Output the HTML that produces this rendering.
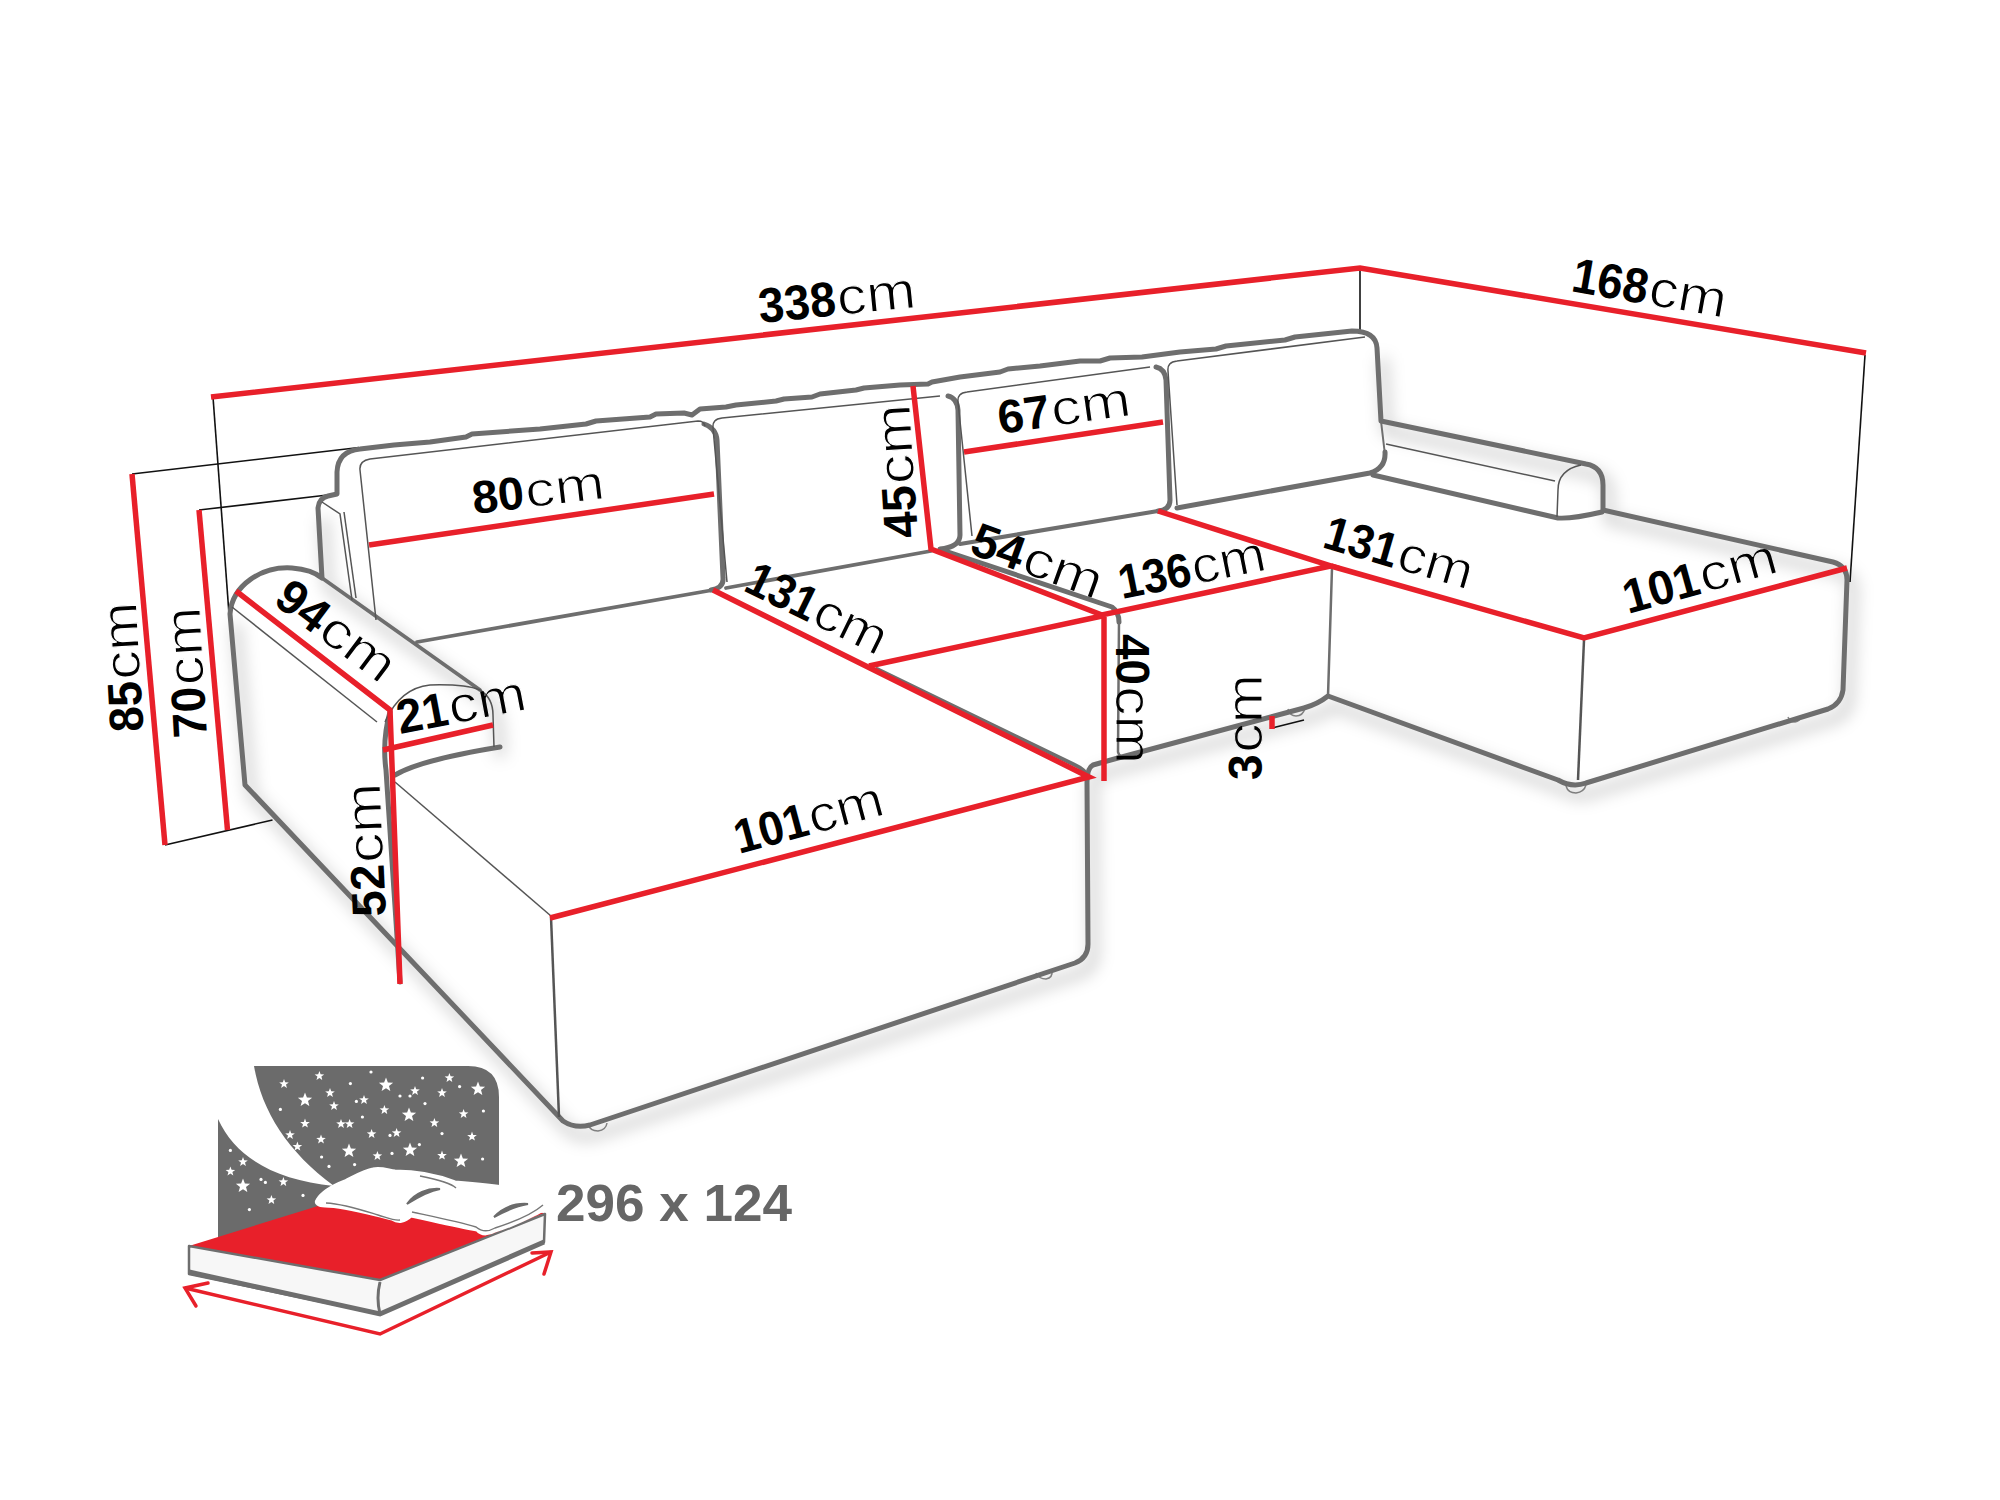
<!DOCTYPE html>
<html><head><meta charset="utf-8"><style>
html,body{margin:0;padding:0;background:#fff;}
svg{display:block;}
</style></head><body>
<svg width="2000" height="1500" viewBox="0 0 2000 1500">
<rect width="2000" height="1500" fill="#fff"/>
<defs><filter id="sh" x="-10%" y="-10%" width="120%" height="120%"><feGaussianBlur stdDeviation="8"/></filter></defs>
<g fill="#fff" stroke="#8a8a8a" stroke-width="1.5"><path d="M588 1124 Q590 1131 598 1131 Q606 1130 607 1123"/><path d="M1036 973 Q1039 979 1046 979 Q1053 978 1052 970"/><path d="M1288 709 Q1290 716 1296 716 Q1303 716 1305 708"/><path d="M1566 786 Q1568 793 1576 793 Q1584 792 1586 785"/><path d="M1788 717 Q1790 722 1795 722 Q1800 721 1801 716"/></g>
<g stroke="#111" stroke-width="1.6" fill="none"><line x1="213" y1="397" x2="229" y2="614"/><line x1="1360" y1="271" x2="1360" y2="330"/><line x1="1865" y1="355" x2="1850" y2="582"/><line x1="132" y1="474" x2="359" y2="447.5"/><line x1="199" y1="510" x2="327.5" y2="495"/><line x1="165" y1="845" x2="272.5" y2="820"/><line x1="1272" y1="728" x2="1304" y2="720"/></g>
<path d="M1377 348 L1381 421 L1586 464 Q1603 467 1603 485 L1603 510 L1833 562 Q1847 566 1847 580 L1843 690 Q1841 704 1828 709 L1586 783 Q1572 788 1558 780 L1328 696 Q1318 704 1304 708 L1118 758 L1093 765 Q1087 768 1087 782 L1088 944 Q1088 958 1075 963 L590 1125 Q575 1129 563 1121 L245 785 L230 614 M322 578 L318 508 M322 578 L480 690 Q495 698 494 747" stroke="#000" stroke-opacity="0.2" stroke-width="9" fill="none" transform="translate(6,10)" filter="url(#sh)"/>
<g stroke="#6e6e6e" stroke-width="5" fill="none" stroke-linejoin="round" stroke-linecap="round">
<path d="M230 614 C232 585 262 566 292 568 C305 569 316 573 322 578 L318 508 Q319 498 328 496 L337 494 L337 472 Q338 451 360 449 L360 449 L394 445 L430 442 L466 437 L472 434 L540 429 L586 424 L596 421 L650 417 L656 414 L684 413 L692 415 L700 409 L726 407 L736 405 L776 401 L784 399 L812 397 L820 394 L856 390 L864 388 L900 385 L928 384 L932 382 L960 377 L1000 372 L1008 369 L1040 366 L1080 361 L1100 361 L1110 358 L1142 357 L1180 352 L1216 349 L1226 346 L1285 340 L1295 337 L1352 331 Q1376 331 1377 348 L1381 421 L1586 464 Q1603 467 1603 485 L1603 510 L1833 562 Q1847 566 1847 580 L1843 690 Q1841 704 1828 709 L1586 783 Q1572 788 1558 780 L1328 696 Q1318 704 1304 708 L1118 758 L1093 765 Q1087 768 1087 782 L1088 944 Q1088 958 1075 963 L590 1125 Q575 1129 563 1121 L245 785 L230 614"/>
<path d="M322 578 L480 690" stroke-width="3.8"/>
<path d="M390 712 Q382 740 386 770 L400 982"/>
<path d="M395 775 Q420 760 500 747"/>
<path d="M417 642 L713 590" stroke-width="3.8"/>
<path d="M726 588 L931 551" stroke-width="3.8"/>
<path d="M960 544 L1158 511" stroke-width="4.2"/>
<path d="M1177 508 L1370 473 Q1386 468 1385 452"/>
<path d="M1385 455 L1381 421" stroke-width="2"/>
<path d="M704 424 Q716 428 717 440 L723 578 Q724 588 711 590"/>
<path d="M948 396 Q957 398 958 410 L960 535 Q960 547 940 549"/>
<path d="M1156 367 Q1165 369 1166 380 L1170 500 Q1170 510 1158 511"/>
<path d="M942 550 L1112 607 Q1119 612 1119 622"/>
<path d="M1119 620 L1118 752 Q1120 760 1130 756" stroke-width="2.5"/>
<path d="M1332 568 L1328 696" stroke-width="2.5"/>
<path d="M1373 475 L1558 518 Q1572 519 1602 512"/>
<path d="M877 669 L1075 765 Q1086 770 1088 777" stroke-width="4"/>
</g>
<g stroke="#555" stroke-width="1.5" fill="none">
<path d="M232 607 L377 722"/>
<path d="M385 722 Q400 688 430 685 Q465 684 480 690 Q493 698 493 715 L494 747"/>
<path d="M395 782 L551 916"/>
<path d="M551 917 L559 1117" stroke-width="2.5"/>
<path d="M1584 640 L1578 780" stroke-width="2.5"/>
<path d="M322 502 L340 514 L352 600"/>
<path d="M344 512 L356 598"/>
<path d="M376 620 L360 470 Q359 461 370 459 L698 421 Q704 421 705 426"/>
<path d="M727 582 L713 428 Q712 419 722 418 L940 396"/>
<path d="M972 536 L958 402 Q957 393 967 392 L1150 367"/>
<path d="M1177 505 L1168 371 Q1167 362 1177 361 L1365 337"/>
<path d="M1386 444 L1555 481"/>
<path d="M1581 465 Q1558 470 1558 490 L1557 517"/>
</g>
<g stroke="#e8202a" stroke-width="5.5" fill="none" stroke-linecap="butt" stroke-linejoin="miter">
<path d="M211 397 L1360 268 L1866 353"/>
<path d="M132 474 L165 845"/>
<path d="M199 510 L227.5 830"/>
<path d="M369 545 L714 494"/>
<path d="M964 452 L1163 422"/>
<path d="M913 386 L931 549 L1102 615 L1331 566 L1158 511"/>
<path d="M1331 566 L1584 638 L1847 568"/>
<path d="M869 666 L1102 616"/>
<path d="M1104 617 L1104 781"/>
<path d="M713 590 L1089 777 L550 918"/>
<path d="M236 591 L390 710 L400 984"/>
<path d="M383 750 L493 725"/>
<path d="M1272 716 L1272 729"/>
</g>
<g font-family="Liberation Sans, sans-serif" fill="#000"><text transform="translate(760,323) rotate(-5.7)" font-size="49" font-weight="bold" textLength="77.5" lengthAdjust="spacingAndGlyphs">338</text><text transform="translate(1570,291) rotate(10)" font-size="49" font-weight="bold" textLength="76.5" lengthAdjust="spacingAndGlyphs">168</text><text transform="translate(474,514) rotate(-6.8)" font-size="46" font-weight="bold" textLength="52.0" lengthAdjust="spacingAndGlyphs">80</text><text transform="translate(1000,434) rotate(-8)" font-size="47" font-weight="bold" textLength="52.4" lengthAdjust="spacingAndGlyphs">67</text><text transform="translate(918,537) rotate(-93.6)" font-size="48" font-weight="bold" textLength="52.4" lengthAdjust="spacingAndGlyphs">45</text><text transform="translate(968,553) rotate(20)" font-size="48" font-weight="bold" textLength="53.1" lengthAdjust="spacingAndGlyphs">54</text><text transform="translate(1122,599) rotate(-11.3)" font-size="48" font-weight="bold" textLength="73.1" lengthAdjust="spacingAndGlyphs">136</text><text transform="translate(1321,547) rotate(16.3)" font-size="48" font-weight="bold" textLength="75.0" lengthAdjust="spacingAndGlyphs">131</text><text transform="translate(1628,614) rotate(-15.5)" font-size="48" font-weight="bold" textLength="77.5" lengthAdjust="spacingAndGlyphs">101</text><text transform="translate(742,590) rotate(26)" font-size="48" font-weight="bold" textLength="74.0" lengthAdjust="spacingAndGlyphs">131</text><text transform="translate(739,854) rotate(-15)" font-size="48" font-weight="bold" textLength="75.0" lengthAdjust="spacingAndGlyphs">101</text><text transform="translate(272,603) rotate(37)" font-size="48" font-weight="bold" textLength="53.1" lengthAdjust="spacingAndGlyphs">94</text><text transform="translate(400,734) rotate(-10.8)" font-size="48" font-weight="bold" textLength="51.2" lengthAdjust="spacingAndGlyphs">21</text><text transform="translate(386,916) rotate(-92.6)" font-size="48" font-weight="bold" textLength="52.4" lengthAdjust="spacingAndGlyphs">52</text><text transform="translate(143.5,731) rotate(-93.2)" font-size="48" font-weight="bold" textLength="50.8" lengthAdjust="spacingAndGlyphs">85</text><text transform="translate(207,737) rotate(-93.2)" font-size="48" font-weight="bold" textLength="51.2" lengthAdjust="spacingAndGlyphs">70</text><text transform="translate(1116,634) rotate(90)" font-size="48" font-weight="bold" textLength="50.8" lengthAdjust="spacingAndGlyphs">40</text><text transform="translate(1262,780) rotate(-90)" font-size="48" font-weight="bold" textLength="25.7" lengthAdjust="spacingAndGlyphs">3</text></g>
<mask id="cmm" maskUnits="userSpaceOnUse" x="0" y="0" width="2000" height="1500"><g font-family="Liberation Sans, sans-serif" fill="#fff" stroke="#000" stroke-width="1.2"><text transform="translate(760,323) rotate(-5.7)" x="79.0" font-size="51.9" textLength="79.0" lengthAdjust="spacingAndGlyphs">cm</text><text transform="translate(1570,291) rotate(10)" x="78.0" font-size="51.9" textLength="78.0" lengthAdjust="spacingAndGlyphs">cm</text><text transform="translate(474,514) rotate(-6.8)" x="53.5" font-size="48.8" textLength="79.5" lengthAdjust="spacingAndGlyphs">cm</text><text transform="translate(1000,434) rotate(-8)" x="53.9" font-size="49.8" textLength="80.1" lengthAdjust="spacingAndGlyphs">cm</text><text transform="translate(918,537) rotate(-93.6)" x="53.9" font-size="50.9" textLength="80.1" lengthAdjust="spacingAndGlyphs">cm</text><text transform="translate(968,553) rotate(20)" x="54.7" font-size="50.9" textLength="81.3" lengthAdjust="spacingAndGlyphs">cm</text><text transform="translate(1122,599) rotate(-11.3)" x="74.5" font-size="50.9" textLength="74.5" lengthAdjust="spacingAndGlyphs">cm</text><text transform="translate(1321,547) rotate(16.3)" x="76.5" font-size="50.9" textLength="76.5" lengthAdjust="spacingAndGlyphs">cm</text><text transform="translate(1628,614) rotate(-15.5)" x="79.0" font-size="50.9" textLength="79.0" lengthAdjust="spacingAndGlyphs">cm</text><text transform="translate(742,590) rotate(26)" x="75.5" font-size="50.9" textLength="75.5" lengthAdjust="spacingAndGlyphs">cm</text><text transform="translate(739,854) rotate(-15)" x="76.5" font-size="50.9" textLength="76.5" lengthAdjust="spacingAndGlyphs">cm</text><text transform="translate(272,603) rotate(37)" x="54.7" font-size="50.9" textLength="81.3" lengthAdjust="spacingAndGlyphs">cm</text><text transform="translate(400,734) rotate(-10.8)" x="52.7" font-size="50.9" textLength="78.3" lengthAdjust="spacingAndGlyphs">cm</text><text transform="translate(386,916) rotate(-92.6)" x="53.9" font-size="50.9" textLength="80.1" lengthAdjust="spacingAndGlyphs">cm</text><text transform="translate(143.5,731) rotate(-93.2)" x="52.3" font-size="50.9" textLength="77.7" lengthAdjust="spacingAndGlyphs">cm</text><text transform="translate(207,737) rotate(-93.2)" x="52.7" font-size="50.9" textLength="78.3" lengthAdjust="spacingAndGlyphs">cm</text><text transform="translate(1116,634) rotate(90)" x="52.3" font-size="50.9" textLength="77.7" lengthAdjust="spacingAndGlyphs">cm</text><text transform="translate(1262,780) rotate(-90)" x="27.2" font-size="50.9" textLength="78.8" lengthAdjust="spacingAndGlyphs">cm</text></g></mask>
<rect width="2000" height="1500" fill="#000" mask="url(#cmm)"/>
<path d="M254 1066 L468 1066 Q499 1066 499 1097 L499 1240 L218 1240 L218 1119 C236 1158 275 1180 334 1186 C288 1152 262 1112 254 1066 Z" fill="#6b6b6b"/>
<path d="M305.0,1092.5 L306.9,1097.5 L312.1,1097.7 L308.0,1101.0 L309.4,1106.1 L305.0,1103.2 L300.6,1106.1 L302.0,1101.0 L297.9,1097.7 L303.1,1097.5ZM386.0,1077.5 L387.9,1082.5 L393.1,1082.7 L389.0,1086.0 L390.4,1091.1 L386.0,1088.2 L381.6,1091.1 L383.0,1086.0 L378.9,1082.7 L384.1,1082.5ZM478.0,1081.5 L479.9,1086.5 L485.1,1086.7 L481.0,1090.0 L482.4,1095.1 L478.0,1092.2 L473.6,1095.1 L475.0,1090.0 L470.9,1086.7 L476.1,1086.5ZM409.0,1107.5 L410.9,1112.5 L416.1,1112.7 L412.0,1116.0 L413.4,1121.1 L409.0,1118.2 L404.6,1121.1 L406.0,1116.0 L401.9,1112.7 L407.1,1112.5ZM349.0,1143.5 L350.9,1148.5 L356.1,1148.7 L352.0,1152.0 L353.4,1157.1 L349.0,1154.2 L344.6,1157.1 L346.0,1152.0 L341.9,1148.7 L347.1,1148.5ZM410.0,1142.5 L411.9,1147.5 L417.1,1147.7 L413.0,1151.0 L414.4,1156.1 L410.0,1153.2 L405.6,1156.1 L407.0,1151.0 L402.9,1147.7 L408.1,1147.5ZM461.0,1153.5 L462.9,1158.5 L468.1,1158.7 L464.0,1162.0 L465.4,1167.1 L461.0,1164.2 L456.6,1167.1 L458.0,1162.0 L453.9,1158.7 L459.1,1158.5ZM243.0,1178.5 L244.9,1183.5 L250.1,1183.7 L246.0,1187.0 L247.4,1192.1 L243.0,1189.2 L238.6,1192.1 L240.0,1187.0 L235.9,1183.7 L241.1,1183.5ZM319.4,1071.0 L320.6,1074.3 L324.2,1074.5 L321.4,1076.6 L322.3,1080.0 L319.4,1078.1 L316.5,1080.0 L317.4,1076.6 L314.6,1074.5 L318.2,1074.3ZM284.0,1079.0 L285.2,1082.3 L288.8,1082.5 L286.0,1084.6 L286.9,1088.0 L284.0,1086.1 L281.1,1088.0 L282.0,1084.6 L279.2,1082.5 L282.8,1082.3ZM330.0,1088.0 L331.2,1091.3 L334.8,1091.5 L332.0,1093.6 L332.9,1097.0 L330.0,1095.1 L327.1,1097.0 L328.0,1093.6 L325.2,1091.5 L328.8,1091.3ZM364.0,1095.0 L365.2,1098.3 L368.8,1098.5 L366.0,1100.6 L366.9,1104.0 L364.0,1102.1 L361.1,1104.0 L362.0,1100.6 L359.2,1098.5 L362.8,1098.3ZM334.0,1101.0 L335.2,1104.3 L338.8,1104.5 L336.0,1106.6 L336.9,1110.0 L334.0,1108.1 L331.1,1110.0 L332.0,1106.6 L329.2,1104.5 L332.8,1104.3ZM415.0,1086.0 L416.2,1089.3 L419.8,1089.5 L417.0,1091.6 L417.9,1095.0 L415.0,1093.1 L412.1,1095.0 L413.0,1091.6 L410.2,1089.5 L413.8,1089.3ZM449.4,1073.0 L450.6,1076.3 L454.2,1076.5 L451.4,1078.6 L452.3,1082.0 L449.4,1080.1 L446.5,1082.0 L447.4,1078.6 L444.6,1076.5 L448.2,1076.3ZM442.0,1088.0 L443.2,1091.3 L446.8,1091.5 L444.0,1093.6 L444.9,1097.0 L442.0,1095.1 L439.1,1097.0 L440.0,1093.6 L437.2,1091.5 L440.8,1091.3ZM384.4,1105.0 L385.6,1108.3 L389.2,1108.5 L386.4,1110.6 L387.3,1114.0 L384.4,1112.1 L381.5,1114.0 L382.4,1110.6 L379.6,1108.5 L383.2,1108.3ZM463.6,1109.0 L464.8,1112.3 L468.4,1112.5 L465.6,1114.6 L466.5,1118.0 L463.6,1116.1 L460.7,1118.0 L461.6,1114.6 L458.8,1112.5 L462.4,1112.3ZM305.0,1118.6 L306.2,1121.9 L309.8,1122.1 L307.0,1124.2 L307.9,1127.6 L305.0,1125.7 L302.1,1127.6 L303.0,1124.2 L300.2,1122.1 L303.8,1121.9ZM341.0,1119.0 L342.2,1122.3 L345.8,1122.5 L343.0,1124.6 L343.9,1128.0 L341.0,1126.1 L338.1,1128.0 L339.0,1124.6 L336.2,1122.5 L339.8,1122.3ZM349.6,1119.0 L350.8,1122.3 L354.4,1122.5 L351.6,1124.6 L352.5,1128.0 L349.6,1126.1 L346.7,1128.0 L347.6,1124.6 L344.8,1122.5 L348.4,1122.3ZM434.4,1118.0 L435.6,1121.3 L439.2,1121.5 L436.4,1123.6 L437.3,1127.0 L434.4,1125.1 L431.5,1127.0 L432.4,1123.6 L429.6,1121.5 L433.2,1121.3ZM290.0,1130.0 L291.2,1133.3 L294.8,1133.5 L292.0,1135.6 L292.9,1139.0 L290.0,1137.1 L287.1,1139.0 L288.0,1135.6 L285.2,1133.5 L288.8,1133.3ZM321.0,1134.4 L322.2,1137.7 L325.8,1137.9 L323.0,1140.0 L323.9,1143.4 L321.0,1141.5 L318.1,1143.4 L319.0,1140.0 L316.2,1137.9 L319.8,1137.7ZM371.6,1129.0 L372.8,1132.3 L376.4,1132.5 L373.6,1134.6 L374.5,1138.0 L371.6,1136.1 L368.7,1138.0 L369.6,1134.6 L366.8,1132.5 L370.4,1132.3ZM396.6,1128.0 L397.8,1131.3 L401.4,1131.5 L398.6,1133.6 L399.5,1137.0 L396.6,1135.1 L393.7,1137.0 L394.6,1133.6 L391.8,1131.5 L395.4,1131.3ZM472.0,1131.6 L473.2,1134.9 L476.8,1135.1 L474.0,1137.2 L474.9,1140.6 L472.0,1138.7 L469.1,1140.6 L470.0,1137.2 L467.2,1135.1 L470.8,1134.9ZM297.4,1141.6 L298.6,1144.9 L302.2,1145.1 L299.4,1147.2 L300.3,1150.6 L297.4,1148.7 L294.5,1150.6 L295.4,1147.2 L292.6,1145.1 L296.2,1144.9ZM377.4,1151.0 L378.6,1154.3 L382.2,1154.5 L379.4,1156.6 L380.3,1160.0 L377.4,1158.1 L374.5,1160.0 L375.4,1156.6 L372.6,1154.5 L376.2,1154.3ZM442.0,1150.6 L443.2,1153.9 L446.8,1154.1 L444.0,1156.2 L444.9,1159.6 L442.0,1157.7 L439.1,1159.6 L440.0,1156.2 L437.2,1154.1 L440.8,1153.9ZM243.0,1157.0 L244.2,1160.3 L247.8,1160.5 L245.0,1162.6 L245.9,1166.0 L243.0,1164.1 L240.1,1166.0 L241.0,1162.6 L238.2,1160.5 L241.8,1160.3ZM230.4,1166.4 L231.6,1169.7 L235.2,1169.9 L232.4,1172.0 L233.3,1175.4 L230.4,1173.5 L227.5,1175.4 L228.4,1172.0 L225.6,1169.9 L229.2,1169.7ZM283.4,1177.0 L284.6,1180.3 L288.2,1180.5 L285.4,1182.6 L286.3,1186.0 L283.4,1184.1 L280.5,1186.0 L281.4,1182.6 L278.6,1180.5 L282.2,1180.3ZM271.4,1195.0 L272.6,1198.3 L276.2,1198.5 L273.4,1200.6 L274.3,1204.0 L271.4,1202.1 L268.5,1204.0 L269.4,1200.6 L266.6,1198.5 L270.2,1198.3Z" fill="#fff"/>
<g fill="#fff"><circle cx="371" cy="1072" r="1.6"/><circle cx="350.4" cy="1083.6" r="1.6"/><circle cx="422.6" cy="1078" r="1.6"/><circle cx="459.6" cy="1086.6" r="1.6"/><circle cx="400" cy="1096" r="1.6"/><circle cx="410" cy="1096" r="1.6"/><circle cx="356.4" cy="1101.4" r="1.6"/><circle cx="425" cy="1103.6" r="1.6"/><circle cx="280.4" cy="1109.4" r="1.6"/><circle cx="483.4" cy="1111" r="1.6"/><circle cx="362.4" cy="1117" r="1.6"/><circle cx="442" cy="1133.6" r="1.6"/><circle cx="390" cy="1135.4" r="1.6"/><circle cx="419.4" cy="1144.6" r="1.6"/><circle cx="321.6" cy="1157" r="1.6"/><circle cx="392" cy="1153.4" r="1.6"/><circle cx="482.6" cy="1159" r="1.6"/><circle cx="329" cy="1166.4" r="1.6"/><circle cx="354.6" cy="1164.6" r="1.6"/><circle cx="230.4" cy="1150.4" r="1.6"/><circle cx="261" cy="1179.4" r="1.6"/><circle cx="265.4" cy="1182.4" r="1.6"/><circle cx="303" cy="1195.4" r="1.6"/><circle cx="249.4" cy="1209.6" r="1.6"/></g>
<path d="M189 1246 L318 1206 L545 1213 L380 1280 Z" fill="#e8202a"/>
<path d="M189 1246 L380 1280 L545 1214 L544 1242 L380 1314 L189 1274 Z" fill="#f7f7f7" stroke="#6e6e6e" stroke-width="2.5" stroke-linejoin="round"/>
<path d="M189 1272 L380 1314 L544 1242" stroke="#6e6e6e" stroke-width="5" fill="none"/>
<path d="M380 1282 Q376 1298 380 1314" stroke="#6e6e6e" stroke-width="3" fill="none"/>
<path d="M317 1200 C322 1192 332 1186 345 1181 C355 1176 365 1170 373 1169 C380 1167 388 1170 395 1171 C420 1171 440 1176 455 1182 C480 1184 505 1186 520 1190 C535 1195 545 1200 546 1204 C545 1208 541 1212 536 1214 C520 1222 505 1228 495 1231 C490 1234 482 1236 477 1230 C455 1226 430 1220 411 1216 C405 1222 398 1223 392 1219 C370 1214 345 1206 325 1206 C318 1206 315 1203 317 1200 Z" fill="#fff" stroke="#fff" stroke-width="3"/>
<path d="M326 1203 C345 1204 365 1211 378 1215 C388 1218 394 1221 400 1220 M412 1212 C440 1218 460 1222 476 1227 C482 1232 488 1232 495 1228 C520 1220 535 1212 543 1205 M420 1176 C440 1180 452 1184 456 1188" stroke="#777" stroke-width="1.4" fill="none"/>
<path d="M407 1204 C415 1193 428 1188 440 1189 C428 1191 418 1197 407 1204 Z M494 1217 C503 1208 515 1203 528 1204 C516 1206 505 1211 494 1217 Z" fill="#6b6b6b" stroke="#6b6b6b" stroke-width="2"/>
<path d="M185 1288 L380 1334 L551 1252" stroke="#e8202a" stroke-width="3.5" fill="none"/>
<path d="M208 1283 L185 1288 L196 1306" stroke="#e8202a" stroke-width="3.5" fill="none" stroke-linecap="round"/>
<path d="M532 1253 L551 1252 L544 1274" stroke="#e8202a" stroke-width="3.5" fill="none" stroke-linecap="round"/>
<text x="556" y="1221" font-family="Liberation Sans, sans-serif" font-weight="bold" font-size="52" fill="#666" textLength="236" lengthAdjust="spacingAndGlyphs">296 x 124</text>
</svg></body></html>
